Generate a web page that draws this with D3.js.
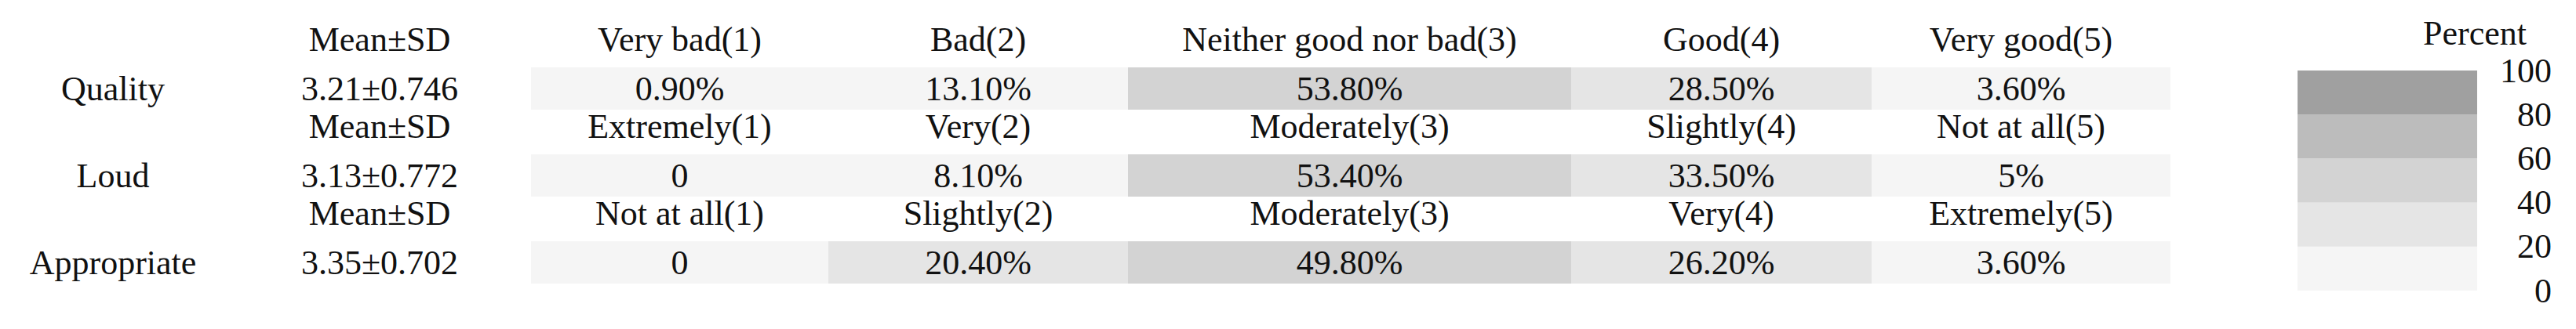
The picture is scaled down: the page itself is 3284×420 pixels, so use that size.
<!DOCTYPE html>
<html><head><meta charset="utf-8">
<script src="https://cdn.jsdelivr.net/npm/d3@7"></script>
<style>body{margin:0;background:#fff}text{font-family:"Liberation Serif","DejaVu Serif",serif;fill:#111}</style>
</head><body><svg id="c" width="3284" height="420"></svg>
<script>
const rowNames = ["Quality","Loud","Appropriate"];
const meanSD = ["3.21±0.746","3.13±0.772","3.35±0.702"];
const headers = [
  ["Very bad(1)","Bad(2)","Neither good nor bad(3)","Good(4)","Very good(5)"],
  ["Extremely(1)","Very(2)","Moderately(3)","Slightly(4)","Not at all(5)"],
  ["Not at all(1)","Slightly(2)","Moderately(3)","Very(4)","Extremely(5)"]
];
const values = [[0.9,13.1,53.8,28.5,3.6],[0,8.1,53.4,33.5,5],[0,20.4,49.8,26.2,3.6]];
const labels = [["0.90%","13.10%","53.80%","28.50%","3.60%"],["0","8.10%","53.40%","33.50%","5%"],["0","20.40%","49.80%","26.20%","3.60%"]];
const legendTicks = [0,20,40,60,80,100];
const bandColors = ["#f5f5f5","#e5e5e5","#d3d3d3","#bcbcbc","#a0a0a0"];

const svg = d3.select("#c");
const colEdges = [677,1056,1438,2003,2386,2767];
const color = d3.scaleThreshold().domain([20,40,60,80]).range(bandColors);
const y = d3.scaleBand().domain(d3.range(3)).range([30,363]).paddingInner(0);
const fs = 44;
rowNames.forEach((r,i)=>{
  const top = y(i), bh = y.bandwidth();
  const cellTop = top + 56, cellH = 54;
  svg.append("text").attr("x",144).attr("y",cellTop+cellH/2).attr("dy","0.35em").attr("text-anchor","middle").attr("font-size",fs).text(r);
  svg.append("text").attr("x",484).attr("y",top+20).attr("dy","0.35em").attr("text-anchor","middle").attr("font-size",fs).text("Mean±SD");
  svg.append("text").attr("x",484).attr("y",cellTop+cellH/2).attr("dy","0.35em").attr("text-anchor","middle").attr("font-size",fs).text(meanSD[i]);
  values[i].forEach((v,j)=>{
    const x0=colEdges[j], x1=colEdges[j+1], cx=(x0+x1)/2;
    svg.append("rect").attr("x",x0).attr("y",cellTop).attr("width",x1-x0).attr("height",cellH).attr("fill",color(v));
    svg.append("text").attr("x",cx).attr("y",top+20).attr("dy","0.35em").attr("text-anchor","middle").attr("font-size",fs).text(headers[i][j]);
    svg.append("text").attr("x",cx).attr("y",cellTop+cellH/2).attr("dy","0.35em").attr("text-anchor","middle").attr("font-size",fs).text(labels[i][j]);
  });
});
// legend
const ly = d3.scaleLinear().domain([0,100]).range([371,90]);
for(let k=0;k<5;k++){
  svg.append("rect").attr("x",2929).attr("width",229).attr("y",ly(legendTicks[k+1])).attr("height",ly(legendTicks[k])-ly(legendTicks[k+1])).attr("fill",bandColors[k]);
}
svg.append("text").attr("x",3155).attr("y",42).attr("dy","0.35em").attr("text-anchor","middle").attr("font-size",fs).text("Percent");
const ax = svg.append("g").attr("transform","translate(3165,0)").call(d3.axisRight(ly).tickValues(legendTicks).tickSize(0).tickPadding(0));
ax.select(".domain").remove();
ax.selectAll("text").attr("x",88).attr("text-anchor","end").attr("font-size",fs).attr("fill","#111").style("font-family",'"Liberation Serif",serif');
</script></body></html>
